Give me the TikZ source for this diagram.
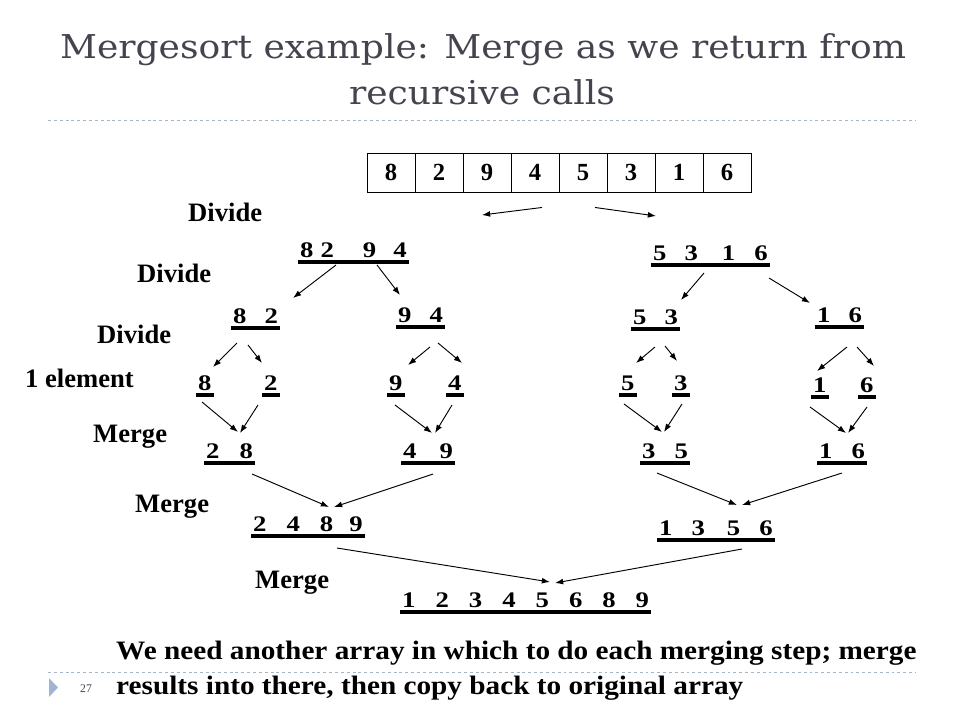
\documentclass[tikz,border=0pt]{standalone}
\usepackage{fontspec}
\setmainfont{Liberation Serif}
\newfontfamily\titlefont[FakeStretch=1.1]{DejaVu Serif}
\newfontfamily\widefont[FakeStretch=1.1]{Liberation Serif}
\newfontfamily\digitfont[FakeStretch=1.2]{Liberation Serif}
\usetikzlibrary{arrows.meta}
\newlength\px
\setlength\px{0.03cm}
\newcommand\gp[1]{\hspace{#1\px}}
\definecolor{titlegray}{RGB}{68,68,78}
\definecolor{rulegray}{RGB}{165,182,198}
\definecolor{markblue}{RGB}{160,182,208}

\begin{document}
\begin{tikzpicture}
[x=0.03cm, y=-0.03cm, >={Latex[length=7pt,width=5pt]},
 lab/.style = {anchor=base west, inner sep=0pt, font=\fontsize{22.7}{26}\selectfont\bfseries},
 num/.style = {anchor=base west, inner xsep=2\px, inner ysep=0pt, font=\digitfont\fontsize{19}{22}\selectfont\bfseries},
 cell/.style = {draw, line width=0.8pt, minimum width=48\px, minimum height=39\px, inner sep=0pt, font=\fontsize{21}{24}\selectfont\bfseries},
 arr/.style = {->, line width=0.8pt},
 ubar/.style = {line width=2.6pt},
 rule/.style = {rulegray, line width=0.8pt, dash pattern=on 2.5pt off 2.5pt},]

\useasboundingbox (0,0) rectangle (960,720);

% title
\node (t1) at (483,58) [anchor=base, inner sep=0pt, text=titlegray, font=\titlefont\fontsize{28}{32}\selectfont] {Mergesort example: Merge as we return from};
\node (t2) at (482,104) [anchor=base, inner sep=0pt, text=titlegray, font=\titlefont\fontsize{28}{32}\selectfont] {recursive calls};
\draw [rule] (48,120) -- (916,120);

% the array
\foreach \d [count=\i] in {8,2,9,4,5,3,1,6}
  \node (c\i) at (343+48*\i,172.5) [cell] {\d};

% row labels
\node (dv1) at (188,221)[lab] {Divide};
\node (dv2) at (137,282)[lab] {Divide};
\node (dv3) at (97,343)[lab] {Divide};
\node (one) at (25,387)[lab] {1 element};
\node (mg1) at (93,442)[lab] {Merge};
\node (mg2) at (135,512)[lab] {Merge};
\node (mg3) at (255,588)[lab] {Merge};

% the tree
\node (La) at (298,257)[num] {8\gp{7}2\gp{29}9\gp{17}4};
\node (Lb) at (651,260)[num] {5\gp{18}3\gp{24}1\gp{19}6};
\node (Ma) at (231,323)[num] {8\gp{18}2};
\node (Mb) at (396,322)[num] {9\gp{18}4};
\node (Mc) at (631,324)[num] {5\gp{18}3};
\node (Md) at (815,322)[num] {1\gp{18}6};
\node (e8) at (196,390)[num] {8};
\node (e2) at (262,390)[num] {2};
\node (e9) at (387,390)[num] {9};
\node (e4) at (446,390)[num] {4};
\node (e5) at (619,390)[num] {5};
\node (e3) at (672,390)[num] {3};
\node (e1) at (811,392)[num] {1};
\node (e6) at (858,392)[num] {6};
\node (Na) at (204,458)[num] {2\gp{20}8};
\node (Nb) at (401,458)[num] {4\gp{23}9};
\node (Nc) at (640,458)[num] {3\gp{19}5};
\node (Nd) at (817,458)[num] {1\gp{19}6};
\node (Pa) at (251,531)[num] {2\gp{20}4\gp{20}8\gp{16}9};
\node (Pb) at (657,535)[num] {1\gp{19}3\gp{22}5\gp{19}6};
\node (R) at (400,607)[num] {1\gp{20}2\gp{20}3\gp{20}4\gp{20}5\gp{20}6\gp{20}8\gp{20}9};

\foreach \n in {La,Lb,Ma,Mb,Mc,Md,e8,e2,e9,e4,e5,e3,e1,e6,Na,Nb,Nc,Nd,Pa,Pb,R}
  \draw [ubar] ([shift={(0,5)}]\n.base west) -- ([shift={(0,5)}]\n.base east);

% divide
\draw [arr] ([shift={(7,15)}]c4.south) -- ([shift={(184,-42)}]La.base west);
\draw [arr] ([shift={(12,15)}]c5.south) -- ([shift={(5,-44)}]Lb.base west);
\draw [arr] ([shift={(38,8)}]La.base west) -- ([shift={(62,-25)}]Ma.base west);
\draw [arr] ([shift={(79,8)}]La.base west) -- ([shift={(4,-27)}]Mb.base west);
\draw [arr] ([shift={(53,13)}]Lb.base west) -- ([shift={(50,-24)}]Mc.base west);
\draw [arr] ([shift={(118,18)}]Lb.base west) -- ([shift={(-5,-19)}]Md.base west);
\draw [arr] ([shift={(6,20)}]Ma.base west) -- ([shift={(17,-23)}]e8.base west);
\draw [arr] ([shift={(17,22)}]Ma.base west) -- ([shift={(0,-27)}]e2.base west);
\draw [arr] ([shift={(34,25)}]Mb.base west) -- ([shift={(21,-25)}]e9.base west);
\draw [arr] ([shift={(42,21)}]Mb.base west) -- ([shift={(16,-27)}]e4.base west);
\draw [arr] ([shift={(24,23)}]Mc.base west) -- ([shift={(17,-27)}]e5.base west);
\draw [arr] ([shift={(34,22)}]Mc.base west) -- ([shift={(5,-29)}]e3.base west);
\draw [arr] ([shift={(32,25)}]Md.base west) -- ([shift={(6,-21)}]e1.base west);
\draw [arr] ([shift={(42,25)}]Md.base west) -- ([shift={(16,-26)}]e6.base west);

% merge
\draw [arr] ([shift={(6,12)}]e8.base west) -- ([shift={(34,-26)}]Na.base west);
\draw [arr] ([shift={(-4,15)}]e2.base west) -- ([shift={(36,-25)}]Na.base west);
\draw [arr] ([shift={(8,15)}]e9.base west) -- ([shift={(31,-25)}]Nb.base west);
\draw [arr] ([shift={(6,15)}]e4.base west) -- ([shift={(34,-25)}]Nb.base west);
\draw [arr] ([shift={(5,14)}]e5.base west) -- ([shift={(22,-26)}]Nc.base west);
\draw [arr] ([shift={(10,14)}]e3.base west) -- ([shift={(24,-26)}]Nc.base west);
\draw [arr] ([shift={(-1,15)}]e1.base west) -- ([shift={(29,-25)}]Nd.base west);
\draw [arr] ([shift={(9,15)}]e6.base west) -- ([shift={(31,-25)}]Nd.base west);
\draw [arr] ([shift={(48,16)}]Na.base west) -- ([shift={(78,-24)}]Pa.base west);
\draw [arr] ([shift={(32,16)}]Nb.base west) -- ([shift={(83,-24)}]Pa.base west);
\draw [arr] ([shift={(17,15)}]Nc.base west) -- ([shift={(80,-30)}]Pb.base west);
\draw [arr] ([shift={(25,15)}]Nd.base west) -- ([shift={(85,-30)}]Pb.base west);
\draw [arr] ([shift={(86,17)}]Pa.base west) -- ([shift={(150,-25)}]R.base west);
\draw [arr] ([shift={(85,14)}]Pb.base west) -- ([shift={(155,-24)}]R.base west);

% note and footer
\node (n1) at (116,659)[lab, font=\widefont\fontsize{22.7}{26}\selectfont\bfseries] {We need another array in which to do each merging step; merge};
\node (n2) at (116,694)[lab, font=\widefont\fontsize{22.7}{26}\selectfont\bfseries] {results into there, then copy back to original array};
\draw [rule] (48,672) -- (916,672);
\fill [markblue] (49,678) -- (58,687.5) -- (49,697) -- cycle;
\node (pg) at (80,692) [anchor=base west, inner sep=0pt, text=titlegray, font=\fontsize{10}{12}\selectfont] {27};

\end{tikzpicture}
\end{document}
